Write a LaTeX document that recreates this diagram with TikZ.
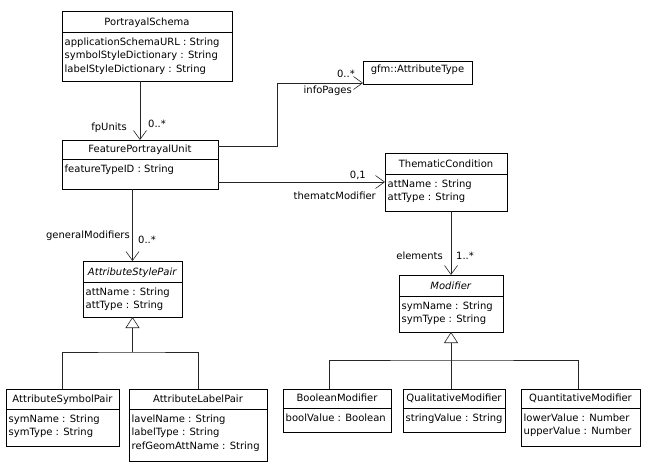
\documentclass[tikz,border=0pt]{standalone}
\usepackage{fontspec}
\newfontfamily\umlfont{DejaVu Sans}
\usetikzlibrary{arrows.meta,shadows}
\newcommand\fs{\umlfont\fontsize{10}{12}\selectfont}
\tikzset{
  cls/.style={draw, line width=0.6pt, fill=white, anchor=north west, inner sep=0pt, outer sep=0pt,
    drop shadow={shadow xshift=1.1pt, shadow yshift=-1.1pt, fill=black!55, opacity=1}},
  divl/.style={line width=0.6pt},
  ttl/.style={font=\fs, inner sep=0pt, anchor=base},
  att/.style={font=\fs, inner sep=0pt, anchor=base west},
  lbl/.style={font=\fs, inner sep=0pt},
  conn/.style={line width=0.6pt, black!85},
  assoc/.style={conn, -{Straight Barb[length=9pt,width=13pt,line width=0.6pt]}},
  gen/.style={conn, -{Triangle[open,length=11pt,width=14pt,line width=0.6pt,fill=white]}},
}
% name, left, top, right, divider, bottom, title, attrs
\newcommand\umlcls[8]{%
  \node[cls, minimum width={(#4-#2)*1pt}, minimum height={(#6-#3)*1pt}] (#1) at (#2,#3) {};
  \draw[divl] (#2,#5) -- (#4,#5);
  \node[ttl] at ({(#2+#4)/2},#5-6.5) {#7};
  \foreach \a [count=\i] in {#8} {\node[att] at (#2+2.5,{#5+13+(\i-1)*13.8}) {\a};}
}
\begin{document}
\begin{tikzpicture}[x=1pt,y=-1pt]
\useasboundingbox[fill=white] (0,0) rectangle (650,472);

\umlcls{ps}{62}{11}{232}{32}{81}{PortrayalSchema}{applicationSchemaURL : String, symbolStyleDictionary : String, labelStyleDictionary : String}
\umlcls{fpu}{62}{140}{218}{159}{189}{FeaturePortrayalUnit}{featureTypeID : String}
\node[cls, minimum width=109pt, minimum height=23pt] (gfm) at (363,61) {};
\node[ttl] at (417.5,72) {gfm::AttributeType};
\umlcls{tc}{385}{153}{507}{174}{211}{ThematicCondition}{attName : String, attType : String}
\umlcls{mod}{399}{275}{503}{296}{332}{\textit{Modifier}}{symName : String, symType : String}
\umlcls{asp}{83}{261}{182}{282}{317}{\textit{AttributeStylePair}}{attName : String, attType : String}
\umlcls{asym}{6}{389}{119}{409}{446}{AttributeSymbolPair}{symName : String, symType : String}
\umlcls{alab}{129}{389}{267}{409}{461}{AttributeLabelPair}{lavelName : String, labelType : String, refGeomAttName : String}
\umlcls{bool}{283}{389}{391}{408}{432}{BooleanModifier}{boolValue : Boolean}
\umlcls{qual}{403}{389}{505}{408}{432}{QualitativeModifier}{stringValue : String}
\umlcls{quant}{521}{389}{640}{408}{446}{QuantitativeModifier}{lowerValue : Number, upperValue : Number}

% associations
\draw[assoc] (ps.south -| fpu.north) -- (fpu.north);
\node[lbl, anchor=base east] (l1) at (127,130) {fpUnits};
\node[lbl, anchor=base west] (l2) at (148,127) {0..*};

\coordinate (ipA) at (0,146);
\coordinate (ipB) at (277,83);
\draw[assoc] (fpu.east |- ipA) -| (ipB) -- (ipB -| gfm.west);
\node[lbl, anchor=base east] (l3) at (355,77) {0..*};
\node[lbl, anchor=base east] (l4) at (352,93) {infoPages};

\draw[assoc] (fpu.east |- tc.west) -- (tc.west);
\node[lbl, anchor=base east] (l5) at (366,178) {0,1};
\node[lbl, anchor=base east] (l6) at (376,199) {thematcModifier};

\draw[assoc] (fpu.south -| asp.north) -- (asp.north);
\node[lbl, anchor=base east] (l7) at (130,238) {generalModifiers};
\node[lbl, anchor=base west] (l8) at (138,243) {0..*};

\draw[assoc] (tc.south -| mod.north) -- (mod.north);
\node[lbl, anchor=base east] (l9) at (443,259) {elements};
\node[lbl, anchor=base west] (l10) at (456,259) {1..*};

% generalizations
\coordinate (busA) at (133,352);
\draw[conn] (asym.north) |- (busA) -| (alab.north);
\draw[gen] (busA -| asp.south) -- (asp.south);

\coordinate (busB) at (450,360);
\draw[conn] ([xshift=-8pt]bool.north) |- (busB) -| ([xshift=-2.5pt]quant.north);
\draw[gen] (qual.north -| mod.south) -- (mod.south);
\end{tikzpicture}
\end{document}
